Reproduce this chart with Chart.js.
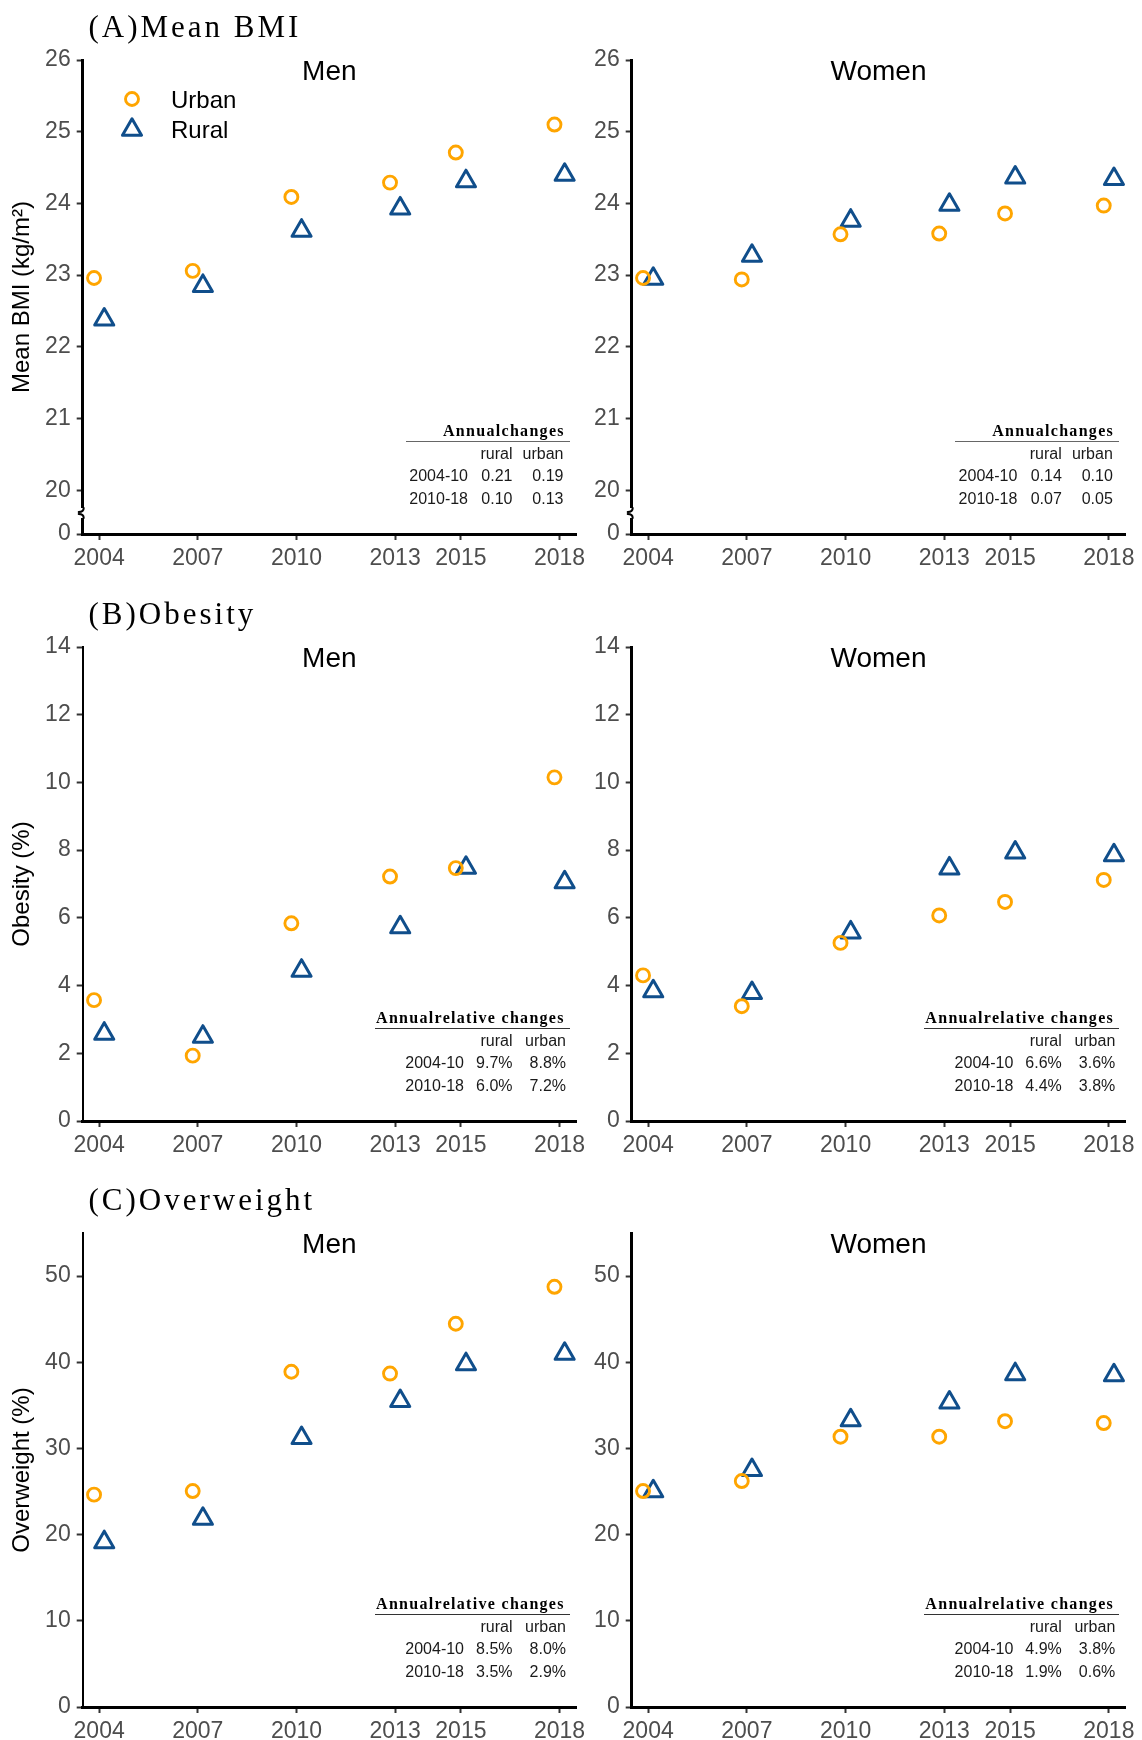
<!DOCTYPE html>
<html>
<head>
<meta charset="utf-8">
<script src="https://cdn.jsdelivr.net/npm/chart.js@4.4.1/dist/chart.umd.min.js"></script>
<style>
  html, body { margin: 0; padding: 0; background: #fff; }
  body { width: 1142px; height: 1740px; position: relative; overflow: hidden; }
  canvas { position: absolute; }
  .t { position: absolute; white-space: nowrap; }
  .rule { position: absolute; height: 1.5px; }
</style>
</head>
<body>
<script>
// ---------------- DATA ----------------
const years = [2004, 2007, 2010, 2013, 2015, 2018];
const xTickYears = [2004, 2007, 2010, 2013, 2015, 2018];

const bmiMenUrban   = [22.96, 23.06, 24.09, 24.29, 24.71, 25.10];
const bmiMenRural   = [22.38, 22.85, 23.62, 23.93, 24.31, 24.40];
const bmiWomenUrban = [22.96, 22.94, 23.57, 23.58, 23.86, 23.97];
const bmiWomenRural = [22.95, 23.27, 23.76, 23.98, 24.36, 24.34];

const obMenUrban   = [3.57, 1.93, 5.84, 7.22, 7.47, 10.15];
const obMenRural   = [2.58, 2.49, 4.44, 5.72, 7.48, 7.05];
const obWomenUrban = [4.30, 3.39, 5.26, 6.07, 6.47, 7.12];
const obWomenRural = [3.83, 3.78, 5.57, 7.46, 7.93, 7.85];

const owMenUrban   = [24.64, 25.06, 38.90, 38.69, 44.47, 48.76];
const owMenRural   = [19.13, 21.83, 31.21, 35.50, 39.78, 40.98];
const owWomenUrban = [25.06, 26.22, 31.36, 31.36, 33.16, 32.95];
const owWomenRural = [25.04, 27.49, 33.27, 35.32, 38.62, 38.50];

const yTicksBMI        = [0, 20, 21, 22, 23, 24, 25, 26];
const yTicksObesity    = [0, 2, 4, 6, 8, 10, 12, 14];
const yTicksOverweight = [0, 10, 20, 30, 40, 50];

const sectionTitles = ['(A)Mean BMI', '(B)Obesity', '(C)Overweight'];
const sexLabels     = ['Men', 'Women'];
const seriesLabels  = ['Urban', 'Rural'];
const yAxisTitles   = ['Mean BMI (kg/m²)', 'Obesity (%)', 'Overweight (%)'];

const tableHeaders = ['Annualchanges', 'Annualrelative changes', 'Annualrelative changes'];
const tableColumns = ['rural', 'urban'];
const tablePeriods = ['2004-10', '2010-18'];
const bmiMenTable     = [['0.21', '0.19'], ['0.10', '0.13']];
const bmiWomenTable   = [['0.14', '0.10'], ['0.07', '0.05']];
const obMenTable      = [['9.7%', '8.8%'], ['6.0%', '7.2%']];
const obWomenTable    = [['6.6%', '3.6%'], ['4.4%', '3.8%']];
const owMenTable      = [['8.5%', '8.0%'], ['3.5%', '2.9%']];
const owWomenTable    = [['4.9%', '3.8%'], ['1.9%', '0.6%']];

// ---------------- STYLE / LAYOUT ----------------
const ORANGE = '#FFA500';
const BLUE = '#104E8B';
const DODGE = 0.155;
const X_MIN = 2003.5, X_MAX = 2018.5;
const BMI_AXIS_FLOOR = 19.39;   // where the broken axis shows "0"
const ROW_TOP = [0, 587, 1173];
const ROW_H = [587, 587, 567];
const COL = [
  { left: 0,   width: 600, yw: 82.7, padR: 24 },
  { left: 575, width: 567, yw: 56.7, padR: 16.7 }
];
const PAD_TOP = 60, PLOT_H = 474;
const TICK_FONT = { family: 'Liberation Sans', size: 23 };
const TICK_COLOR = '#4D4D4D';

Chart.defaults.font.family = 'Liberation Sans';

const roundJoinPlugin = {
  id: 'roundJoin',
  beforeDatasetsDraw(chart) { chart.ctx.save(); chart.ctx.lineJoin = 'round'; },
  afterDatasetsDraw(chart) { chart.ctx.restore(); }
};

const innerLegendPlugin = {
  id: 'innerLegend',
  afterDraw(chart, args, opts) {
    if (!opts || !opts.show) return;
    const ctx = chart.ctx, ca = chart.chartArea;
    chart.data.datasets.forEach((ds, i) => {
      const cx = ca.left + 49.3, cy = ca.top + 39 + i * 30.7;
      const r = ds.pointRadius;
      ctx.save();
      ctx.lineJoin = 'round';
      ctx.lineWidth = ds.pointBorderWidth;
      ctx.strokeStyle = ds.pointBorderColor;
      ctx.beginPath();
      if (ds.pointStyle === 'circle') {
        ctx.arc(cx, cy, r, 0, Math.PI * 2);
      } else {
        ctx.moveTo(cx, cy - r);
        ctx.lineTo(cx + 0.8660254 * r, cy + 0.5 * r);
        ctx.lineTo(cx - 0.8660254 * r, cy + 0.5 * r);
        ctx.closePath();
      }
      ctx.stroke();
      ctx.fillStyle = '#000';
      ctx.font = '24px "Liberation Sans"';
      ctx.textBaseline = 'alphabetic';
      ctx.textAlign = 'left';
      ctx.fillText(ds.label, ca.left + 88.3, ca.top + 48.3 + i * 30);
      ctx.restore();
    });
  }
};

const axisBreakPlugin = {
  id: 'axisBreak',
  afterDraw(chart, args, opts) {
    if (!opts || !opts.show) return;
    const ctx = chart.ctx, ca = chart.chartArea;
    const x = ca.left, y1 = ca.bottom - 26, y2 = ca.bottom - 16;
    ctx.save();
    ctx.fillStyle = '#fff';
    ctx.fillRect(x - 3, y1, 6, y2 - y1);
    ctx.strokeStyle = '#000';
    ctx.lineWidth = 2;
    ctx.lineCap = 'round';
    ctx.beginPath();
    ctx.moveTo(x + 1, y1);
    ctx.quadraticCurveTo(x + 1, y1 + 4, x - 4, y1 + 4);
    ctx.moveTo(x + 1, y2);
    ctx.quadraticCurveTo(x + 1, y2 - 4, x - 4, y2 - 4);
    ctx.stroke();
    ctx.restore();
  }
};

function addText(txt, x, base, o) {
  const d = document.createElement('div');
  d.className = 't';
  d.textContent = txt;
  d.style.font = (o.weight || 'normal') + ' ' + o.size + 'px ' + o.family;
  d.style.lineHeight = o.size + 'px';
  d.style.color = o.color || '#000';
  if (o.ls) d.style.letterSpacing = o.ls + 'px';
  d.style.top = (base - 0.845 * o.size) + 'px';
  const ls = o.ls || 0;
  if (o.align === 'right') {
    d.style.left = (x + ls - 600) + 'px'; d.style.width = '600px'; d.style.textAlign = 'right';
  } else if (o.align === 'center') {
    d.style.left = (x - 300) + 'px'; d.style.width = '600px'; d.style.textAlign = 'center';
  } else {
    d.style.left = x + 'px';
  }
  document.body.appendChild(d);
}

function addRule(x1, x2, y, color) {
  const d = document.createElement('div');
  d.className = 'rule';
  d.style.left = x1 + 'px';
  d.style.width = (x2 - x1) + 'px';
  d.style.top = (y - 0.75) + 'px';
  d.style.background = color;
  document.body.appendChild(d);
}

const panels = [
  { row: 0, col: 0, urban: bmiMenUrban,   rural: bmiMenRural,   ticks: yTicksBMI,        max: 26, brk: true,  table: bmiMenTable },
  { row: 0, col: 1, urban: bmiWomenUrban, rural: bmiWomenRural, ticks: yTicksBMI,        max: 26, brk: true,  table: bmiWomenTable },
  { row: 1, col: 0, urban: obMenUrban,    rural: obMenRural,    ticks: yTicksObesity,    max: 14, brk: false, table: obMenTable },
  { row: 1, col: 1, urban: obWomenUrban,  rural: obWomenRural,  ticks: yTicksObesity,    max: 14, brk: false, table: obWomenTable },
  { row: 2, col: 0, urban: owMenUrban,    rural: owMenRural,    ticks: yTicksOverweight, max: 55, brk: false, table: owMenTable },
  { row: 2, col: 1, urban: owWomenUrban,  rural: owWomenRural,  ticks: yTicksOverweight, max: 55, brk: false, table: owWomenTable }
];

panels.forEach((p, idx) => {
  const c = COL[p.col];
  const top = ROW_TOP[p.row], h = ROW_H[p.row];
  const cv = document.createElement('canvas');
  cv.width = c.width; cv.height = h;
  cv.style.left = c.left + 'px'; cv.style.top = top + 'px';
  cv.style.width = c.width + 'px'; cv.style.height = h + 'px';
  document.body.appendChild(cv);

  const yMin = p.brk ? BMI_AXIS_FLOOR : 0;
  const xh = h - PAD_TOP - PLOT_H;
  const yBorderW = (p.col === 0 && p.row > 0) ? 2 : 3;

  const chart = new Chart(cv.getContext('2d'), {
    type: 'scatter',
    data: {
      datasets: [
        {
          label: seriesLabels[0],
          data: years.map((yr, i) => ({ x: yr - DODGE, y: p.urban[i] })),
          pointStyle: 'circle', pointRadius: 6.5, pointHoverRadius: 6.5,
          pointBorderWidth: 2.9, pointBorderColor: ORANGE,
          pointBackgroundColor: 'rgba(0,0,0,0)', showLine: false, clip: false
        },
        {
          label: seriesLabels[1],
          data: years.map((yr, i) => ({ x: yr + DODGE, y: p.rural[i] })),
          pointStyle: 'triangle', pointRadius: 11, pointHoverRadius: 11,
          pointBorderWidth: 3, pointBorderColor: BLUE,
          pointBackgroundColor: 'rgba(0,0,0,0)', showLine: false, clip: false
        }
      ]
    },
    options: {
      responsive: false, animation: false, devicePixelRatio: 1,
      events: [],
      layout: { padding: { left: 0, right: c.padR, top: PAD_TOP, bottom: 0 } },
      plugins: {
        legend: { display: false }, tooltip: { enabled: false },
        innerLegend: { show: idx === 0 },
        axisBreak: { show: p.brk }
      },
      scales: {
        x: {
          type: 'linear', min: X_MIN, max: X_MAX,
          afterBuildTicks: s => { s.ticks = xTickYears.map(v => ({ value: v })); },
          afterFit: s => { s.height = xh; },
          ticks: { callback: v => String(v), font: TICK_FONT, color: TICK_COLOR, padding: 5, maxRotation: 0, minRotation: 0, autoSkip: false },
          grid: { drawOnChartArea: false, drawTicks: true, tickLength: 6, tickColor: '#333', tickWidth: 2, color: '#333' },
          border: { display: true, color: '#000', width: 3 }
        },
        y: {
          type: 'linear', min: yMin, max: p.max,
          afterBuildTicks: s => { s.ticks = p.ticks.map(v => ({ value: (p.brk && v === 0) ? yMin : v })); },
          afterFit: s => { s.width = c.yw; },
          ticks: {
            callback: v => (p.brk && v === yMin) ? '0' : String(v),
            font: TICK_FONT, color: TICK_COLOR, padding: 6, autoSkip: false
          },
          grid: { drawOnChartArea: false, drawTicks: true, tickLength: 6, tickColor: '#333', tickWidth: 2, color: '#333' },
          border: { display: true, color: '#000', width: yBorderW },
          title: {
            display: p.col === 0, text: yAxisTitles[p.row], color: '#000',
            font: { family: 'Liberation Sans', size: 24 }, padding: { top: 7.6, bottom: 0 }
          }
        }
      }
    },
    plugins: [roundJoinPlugin, innerLegendPlugin, axisBreakPlugin]
  });

  const ca = chart.chartArea;
  const L = c.left + ca.left, R = c.left + ca.right, T = top + ca.top, B = top + ca.bottom;

  // panel title
  addText(sexLabels[p.col], (L + R) / 2, T + 21, { size: 28, family: '"Liberation Sans"', align: 'center' });

  // section title
  if (p.col === 0) {
    addText(sectionTitles[p.row], 88.5, top + 37.3, { size: 31, family: '"Liberation Serif"', ls: 3 });
  }

  // annotation table
  const isA = p.row === 0;
  const ruleLen = isA ? 170 : 201;
  const urbanR = isA ? R - 12.5 : R - 10;
  const ruralR = R - 63.5;
  const periodR = isA ? R - 108 : R - 112;
  addText(tableHeaders[p.row], R - 12.5, B - 97.2, { size: 16, family: '"Liberation Serif"', weight: 'bold', ls: 1.3, align: 'right' });
  addRule(R - ruleLen, R - 6, B - 92.3, isA ? '#666' : '#333');
  const tf = { size: 16, family: '"Liberation Sans"', color: '#1a1a1a', align: 'right' };
  addText(tableColumns[0], ruralR, B - 74.5, tf);
  addText(tableColumns[1], urbanR, B - 74.5, tf);
  tablePeriods.forEach((per, r) => {
    const base = B - 52 + r * 22.3;
    addText(per, periodR, base, tf);
    addText(p.table[r][0], ruralR, base, tf);
    addText(p.table[r][1], urbanR, base, tf);
  });
});
</script>
</body>
</html>
